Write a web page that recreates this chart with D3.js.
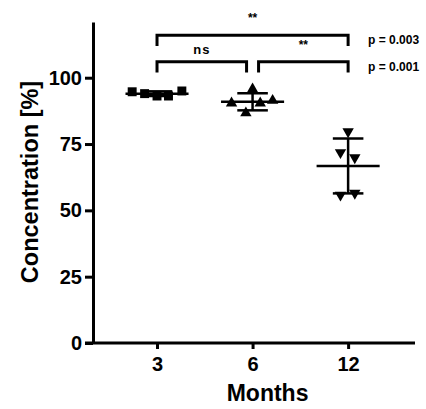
<!DOCTYPE html>
<html>
<head>
<meta charset="utf-8">
<script src="https://cdn.jsdelivr.net/npm/d3@7"></script>
<style>
  html, body { margin: 0; padding: 0; background: #fff; }
  svg { display: block; font-family: "Liberation Sans", Arial, sans-serif; }
</style>
</head>
<body>
<div id="chart"></div>
<script>
// Groups on the x axis (months)
const months = ['3', '6', '12'];
const symbols = ['square', 'triangle', 'triangleDown'];

// Individual concentrations per group (%)
const values3 = [94.7, 94.0, 93.1, 93.1, 95.0];
const values6 = [90.4, 95.7, 90.4, 91.4, 86.7];
const values12 = [79.7, 71.8, 69.9, 55.8, 56.5];

// Horizontal scatter of the points, in category units
const jitter3 = [-0.26, -0.13, 0, 0.12, 0.26];
const jitter6 = [-0.22, 0, 0.08, 0.21, -0.07];
const jitter12 = [0, -0.08, 0.07, -0.08, 0.07];

const yTicks = [0, 25, 50, 75, 100];

// Significance brackets: from group, to group, level (%), label
const brackets = [
  { from: 0, to: 2, level: 116, label: '**' },
  { from: 0, to: 1, level: 106, label: 'ns' },
  { from: 1, to: 2, level: 106, label: '**' }
];
const pValues = ['p = 0.003', 'p = 0.001'];

const width = 426, height = 409;
const margin = { top: 22, right: 11, bottom: 66, left: 93 };
const innerW = width - margin.left - margin.right;
const innerH = height - margin.top - margin.bottom;

const svg = d3.select('#chart').append('svg')
  .attr('width', width)
  .attr('height', height);

const g = svg.append('g')
  .attr('transform', `translate(${margin.left},${margin.top})`);

const x = d3.scaleLinear().domain([0.33, 3.7]).range([0, innerW]);
const y = d3.scaleLinear().domain([0, 121]).range([innerH, 0]);

// Y axis
const yAxis = g.append('g')
  .call(d3.axisLeft(y).tickValues(yTicks).tickSize(8).tickPadding(3).tickSizeOuter(0));
yAxis.select('.domain').attr('stroke', '#000').attr('stroke-width', 3);
yAxis.selectAll('.tick line').attr('stroke', '#000').attr('stroke-width', 3);
yAxis.selectAll('.tick text')
  .attr('font-size', '20px')
  .attr('font-weight', 'bold')
  .attr('fill', '#000');

// X axis
const xAxis = g.append('g')
  .attr('transform', `translate(0,${innerH})`)
  .call(d3.axisBottom(x).tickValues([1, 2, 3]).tickFormat((d, i) => months[i])
    .tickSize(6).tickPadding(8).tickSizeOuter(0));
xAxis.select('.domain').attr('stroke', '#000').attr('stroke-width', 3)
  .attr('d', `M-8,0H${innerW}`);
xAxis.selectAll('.tick line').attr('stroke', '#000').attr('stroke-width', 3);
xAxis.selectAll('.tick text')
  .attr('font-size', '20px')
  .attr('font-weight', 'bold')
  .attr('fill', '#000');

// Axis titles
svg.append('text')
  .attr('x', margin.left + x(2) + 15)
  .attr('y', 401)
  .attr('text-anchor', 'middle')
  .attr('font-size', '23px')
  .attr('font-weight', 'bold')
  .text('Months');

svg.append('text')
  .attr('transform', 'translate(38,182) rotate(-90)')
  .attr('text-anchor', 'middle')
  .attr('font-size', '23.5px')
  .attr('font-weight', 'bold')
  .text('Concentration [%]');

// Data groups
const groups = [
  { values: values3, jitter: jitter3 },
  { values: values6, jitter: jitter6 },
  { values: values12, jitter: jitter12 }
];

const symbolGen = {
  square: d3.symbol().type(d3.symbolSquare).size(80),
  triangle: d3.symbol().type(d3.symbolTriangle).size(56),
  triangleDown: d3.symbol().type(d3.symbolTriangle).size(56)
};

groups.forEach((grp, gi) => {
  const cx = gi + 1;
  const mean = d3.mean(grp.values);
  const sd = d3.deviation(grp.values);
  const sym = symbols[gi];

  const pts = g.append('g').attr('class', 'points');
  pts.selectAll('path')
    .data(grp.values)
    .join('path')
    .attr('d', symbolGen[sym])
    .attr('fill', '#000')
    .attr('transform', (d, i) =>
      `translate(${x(cx + grp.jitter[i])},${y(d)})` + (sym === 'triangleDown' ? ' rotate(180)' : ''));

  const bars = g.append('g').attr('class', 'errorbars')
    .attr('stroke', '#000').attr('stroke-width', 2.5);
  // mean line
  bars.append('line')
    .attr('x1', x(cx - 0.33)).attr('x2', x(cx + 0.33))
    .attr('y1', y(mean)).attr('y2', y(mean));
  // SD whisker
  bars.append('line')
    .attr('x1', x(cx)).attr('x2', x(cx))
    .attr('y1', y(mean - sd)).attr('y2', y(mean + sd));
  [mean - sd, mean + sd].forEach(v => {
    bars.append('line')
      .attr('x1', x(cx - 0.16)).attr('x2', x(cx + 0.16))
      .attr('y1', y(v)).attr('y2', y(v));
  });
});

// Significance brackets
const arm = 4;
brackets.forEach(b => {
  const x1 = x(b.from + 1) + (b.from === 1 ? 6 : 0);
  const x2 = x(b.to + 1) - (b.to === 1 ? 6 : 0);
  g.append('path')
    .attr('d', `M${x1},${y(b.level - arm)}V${y(b.level)}H${x2}V${y(b.level - arm)}`)
    .attr('fill', 'none')
    .attr('stroke', '#000')
    .attr('stroke-width', 3);

  const isStars = b.label === '**';
  g.append('text')
    .attr('x', (x1 + x2) / 2)
    .attr('y', y(b.level) - (isStars ? 13 : 8))
    .attr('text-anchor', 'middle')
    .attr('font-size', isStars ? '12px' : '13px')
    .attr('font-weight', 'bold')
    .attr('letter-spacing', isStars ? 0 : 1)
    .text(b.label);
});

// p-values next to the brackets
[116, 106].forEach((lvl, i) => {
  g.append('text')
    .attr('x', x(3) + 20)
    .attr('y', y(lvl) + 9)
    .attr('font-size', '12px')
    .attr('font-weight', 'bold')
    .text(pValues[i]);
});
</script>
</body>
</html>
